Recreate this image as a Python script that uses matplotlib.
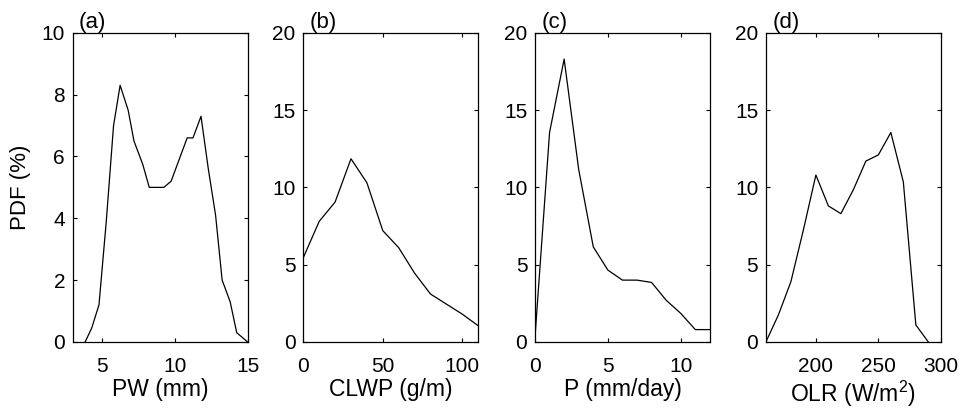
import matplotlib

matplotlib.use("Agg")
from matplotlib import pyplot as plt  # noqa: E402

plt.rcParams["font.family"] = ["Liberation Sans", "DejaVu Sans"]
plt.rcParams["mathtext.default"] = "regular"

# (a) precipitable water
pw_x = [3.85, 4.3, 4.8, 5.3, 5.8, 6.25, 6.8, 7.2, 7.8, 8.25, 8.75, 9.25,
        9.75, 10.3, 10.85, 11.25, 11.8, 12.3, 12.8, 13.25, 13.8, 14.25, 15.0]
pw_pdf = [0.0, 0.45, 1.2, 3.9, 7.0, 8.3, 7.5, 6.5, 5.75, 5.0, 5.0, 5.0,
          5.2, 5.9, 6.6, 6.6, 7.3, 5.6, 4.1, 2.0, 1.3, 0.3, 0.0]

# (b) cloud liquid water path
clwp_x = [0, 10, 20, 30, 40, 50, 60, 70, 80, 90, 100, 110]
clwp_pdf = [5.45, 7.8, 9.05, 11.85, 10.3, 7.2, 6.1, 4.45, 3.1, 2.45, 1.8, 1.05]

# (c) precipitation
p_x = [0, 1, 2, 3, 4, 5, 6, 7, 8, 9, 10, 11, 12]
p_pdf = [0.3, 13.55, 18.3, 11.15, 6.15, 4.65, 4.0, 4.0, 3.85, 2.7, 1.85, 0.8, 0.8]

# (d) outgoing longwave radiation
olr_x = [160, 170, 180, 190, 200, 210, 220, 230, 240, 250, 260, 270, 280, 290]
olr_pdf = [0.0, 1.75, 3.9, 7.25, 10.8, 8.8, 8.3, 9.85, 11.7, 12.1, 13.55, 10.35, 1.1, 0.0]

panels = [
    ("(a)", pw_x, pw_pdf, "PW (mm)", (3, 15), [5, 10, 15], (0, 10), [0, 2, 4, 6, 8, 10]),
    ("(b)", clwp_x, clwp_pdf, "CLWP (g/m)", (0, 110), [0, 50, 100], (0, 20), [0, 5, 10, 15, 20]),
    ("(c)", p_x, p_pdf, "P (mm/day)", (0, 12), [0, 5, 10], (0, 20), [0, 5, 10, 15, 20]),
    ("(d)", olr_x, olr_pdf, "OLR (W/m$^2$)", (160, 300), [200, 250, 300], (0, 20), [0, 5, 10, 15, 20]),
]

fig = plt.figure(figsize=(9.61, 4.15), dpi=100)
lefts = [0.0757, 0.3156, 0.5567, 0.797]

for left, (tag, x, y, xlabel, xlim, xticks, ylim, yticks) in zip(lefts, panels):
    ax = fig.add_axes([left, 0.176, 0.182, 0.745])
    ax.plot(x, y, color="black", linewidth=0.9)
    ax.set_xlim(*xlim)
    ax.set_ylim(*ylim)
    ax.set_xticks(xticks)
    ax.set_yticks(yticks)
    ax.tick_params(direction="in", top=True, right=True, length=3, width=0.8,
                   labelsize=15)
    ax.tick_params(axis="x", pad=10.5)
    ax.tick_params(axis="y", pad=5.5)
    for spine in ax.spines.values():
        spine.set_linewidth(0.9)
    ax.set_xlabel(xlabel, fontsize=16.5, labelpad=2)
    ax.text(0.036, 1.0, tag, transform=ax.transAxes, ha="left", va="bottom", fontsize=16)
    if tag == "(a)":
        ax.set_ylabel("PDF (%)", fontsize=16, labelpad=8)

fig.savefig("out.png", dpi=100)
